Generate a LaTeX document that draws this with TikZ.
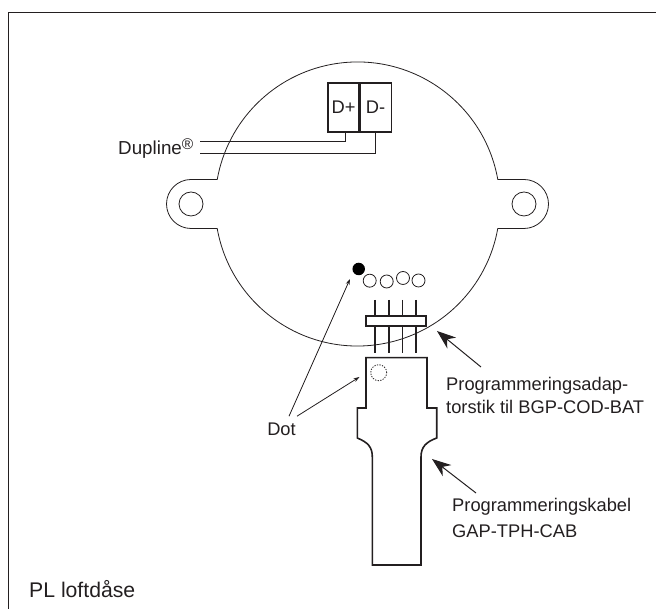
\documentclass[tikz,border=0pt]{standalone}
\usepackage{fontspec}
\setmainfont{Liberation Sans}
\usetikzlibrary{arrows.meta, positioning, calc}
\definecolor{inkgray}{RGB}{35,31,32}

\begin{document}
\begin{tikzpicture}[
			x=1pt, y=1pt,
			every node/.style={align=left, text=inkgray},
			thinline/.style={draw=inkgray, line width=0.8pt},
			thickline/.style={draw=inkgray, line width=1.6pt},
			label/.style={font=\fontsize{18.3}{22.6}\selectfont, inner sep=0pt},
			terminal/.style={rectangle, draw=inkgray, line width=1.1pt, inner sep=0pt, minimum width=31pt, minimum height=49pt, font=\fontsize{18.3}{20}\selectfont},
			hole/.style={circle, thinline, inner sep=0pt, minimum size=13pt},
			pointer/.style={-{Stealth[length=6pt, width=4pt]}, thinline},
			bigpointer/.style={-{Stealth[length=19pt, width=14pt, inset=6pt]}, draw=inkgray, line width=1pt}
			]
			\useasboundingbox (0,0) rectangle (656,609);
			
			% Frame
			\draw[thinline] (8,0) -- (8,597) -- (656,597);
			
			% Housing
			\draw[thinline] (497.8,429.5) arc[start angle=10.1, end angle=169.9, radius=142.5]
				-- (191,429.5) arc[start angle=90, end angle=270, radius=24.5]
				-- (217.2,380.5) arc[start angle=190.1, end angle=349.9, radius=142.5]
				-- (524,380.5) arc[start angle=-90, end angle=90, radius=24.5] -- cycle;
			\node[circle, thinline, inner sep=0pt, minimum size=24pt] (lugleft) at (191,405) {};
			\node[circle, thinline, inner sep=0pt, minimum size=24pt] (lugright) at (524,405) {};
			
			% Terminals
			\node[terminal] (dplus) at (343.5,501.5) {D+};
			\node[terminal, right=0pt of dplus] (dminus) {D-};
			
			% Bus wires
			\node[label, anchor=base west, font=\fontsize{18.8}{22}\selectfont] (dupline) at (118,454) {Dupline\raisebox{5pt}{\fontsize{15.5}{15.5}\selectfont ®}};
			\coordinate (wireplus) at (200,468);
			\coordinate (wireminus) at (200,456);
			\draw[thinline] ([xshift=2pt]dplus.south) |- (wireplus);
			\draw[thinline] (dminus.south) |- (wireminus);
			
			% Dot and contacts
			\node[circle, fill=black, inner sep=0pt, minimum size=12.5pt] (dot) at (358.7,340) {};
			\foreach \px/\py/\name in {369.7/328.3/contacta, 386.7/327.5/contactb, 403/331/contactc, 418.5/328.5/contactd} {
				\node[hole] (\name) at (\px,\py) {};
			}
			
			% Adapter
			\foreach \px in {375, 388.7, 402.3, 416} {
				\draw[thickline] (\px,309) -- (\px,256);
			}
			\node[rectangle, thickline, fill=white, inner sep=0pt, minimum width=60pt, minimum height=10.5pt] (adapter) at (396,288) {};
			
			% Cable plug
			\draw[thickline] (366,201) -- (366,251.3) -- (427,251.3) -- (427,201) -- (436.7,201) -- (436.7,171)
				.. controls (426,167) and (421,162) .. (421,152) -- (421,44) -- (372.3,44) -- (372.3,152)
				.. controls (372.3,162) and (368,166.5) .. (357.3,171) -- (357.3,201) -- cycle;
			\node[circle, draw=inkgray, dash pattern=on 1.3pt off 1.3pt, line width=0.8pt, inner sep=0pt, minimum size=16pt] (dotplug) at (378.7,236.3) {};
			
			% Labels
			\node[label, anchor=base] (dotlabel) at (281.5,173) {Dot};
			\node[label, anchor=north west] (adapterlabel) at (446,231.5) {Programmeringsadap-\\torstik til BGP-COD-BAT};
			\node[label, anchor=north west, font=\fontsize{18.3}{26}\selectfont] (cablelabel) at (452,110.5) {Programmeringskabel\\GAP-TPH-CAB};
			\node[label, anchor=base west, font=\fontsize{21.2}{24}\selectfont] (title) at (29,11) {PL loftdåse};
			
			% Arrows
			\coordinate (tipdot) at (350,330);
			\coordinate (tipplug) at (359.5,232);
			\coordinate (tipadapter) at (437,278);
			\coordinate (tipcable) at (432,150);
			\draw[pointer] ([xshift=7.5pt,yshift=7pt]dotlabel.north) -- (tipdot);
			\draw[pointer] ([xshift=15.5pt,yshift=7pt]dotlabel.north) -- (tipplug);
			\draw[bigpointer] ([xshift=35pt,yshift=10.5pt]adapterlabel.north west) -- (tipadapter);
			\draw[bigpointer] ([xshift=24pt,yshift=5.5pt]cablelabel.north west) -- (tipcable);
		\end{tikzpicture}
\end{document}
